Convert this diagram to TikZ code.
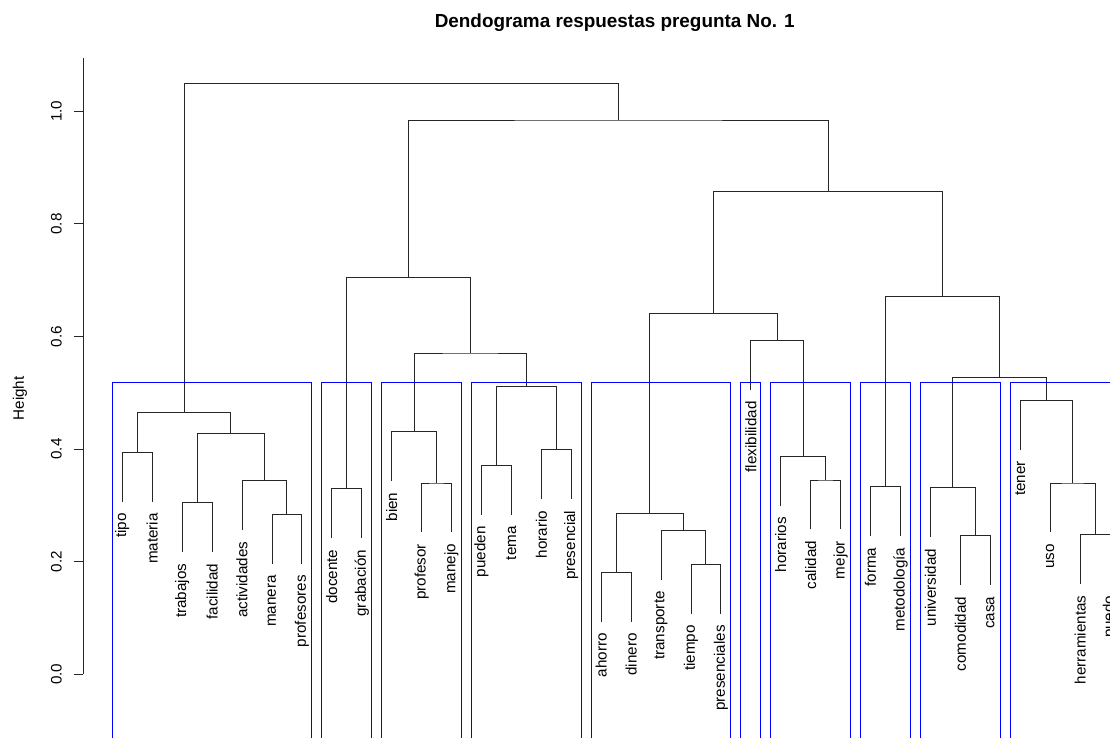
\documentclass[tikz,border=0pt]{standalone}
\usepackage{fontspec}
\setmainfont{Liberation Sans}
\usetikzlibrary{calc}
\tikzset{
  dline/.style={draw=black!85, line width=0.9pt},
  cbox/.style={draw=blue, line width=0.9pt},
  lab/.style={rotate=90, anchor=east, inner sep=0pt, font=\fontsize{15.2}{18}\selectfont},
  ticklab/.style={rotate=90, anchor=base, inner sep=0pt, font=\fontsize{15.2}{18}\selectfont},
}
% leaf: name, index, parent height (px), label
\newcommand\dleaf[4]{\coordinate (#1) at ({122.3+29.93*#2},{#3+49.3});
  \node[lab] (#1-t) at ([yshift=-11.5pt]#1) {#4};}
% merge: name, child A, child B, height (px)
\newcommand\dmerge[4]{\path let \p1=(#2), \p2=(#3) in coordinate (#1) at ({0.5*\x1+0.5*\x2},{-#4pt});
  \draw[dline] (#2) |- (#1) -| (#3);}
\newcommand\dbox[2]{\draw[cbox] ({122.3+29.93*(#1-0.34)},382.7) rectangle ({122.3+29.93*(#2+0.33)},750);}
\begin{document}
\begin{tikzpicture}[x=1pt,y=-1pt]
\useasboundingbox (0,0) rectangle (1110,738);
\clip (0,0) rectangle (1110,738);
% title
\node[font=\bfseries\fontsize{18.9}{22}\selectfont, anchor=base, inner sep=0pt] (title) at (614.7,27.7) {Dendograma respuestas pregunta No. 1};
% axis
\draw[dline] (83,58) -- (83,674.3);
\foreach \h/\t in {0/0.0,0.2/0.2,0.4/0.4,0.6/0.6,0.8/0.8,1.0/1.0}{
  \draw[dline] (74,{674.3-563*\h}) -- (83,{674.3-563*\h});
  \node[ticklab] at (61.5,{674.3-563*\h}) {\t};
}
\node[ticklab] (ylab) at (23.8,398.3) {Height};
% leaves
\dleaf{tipo}{0}{452.3}{tipo}
\dleaf{materia}{1}{452.3}{materia}
\dleaf{trabajos}{2}{502.7}{trabajos}
\dleaf{facilidad}{3}{502.7}{facilidad}
\dleaf{actividades}{4}{480.7}{actividades}
\dleaf{manera}{5}{514.3}{manera}
\dleaf{profesores}{6}{514.3}{profesores}
\dleaf{docente}{7}{488.7}{docente}
\dleaf{grab}{8}{488.7}{grabación}
\dleaf{bien}{9}{431.7}{bien}
\dleaf{profesor}{10}{483}{profesor}
\dleaf{manejo}{11}{483}{manejo}
\dleaf{pueden}{12}{465.3}{pueden}
\dleaf{tema}{13}{465.3}{tema}
\dleaf{horario}{14}{449.7}{horario}
\dleaf{presencial}{15}{449.7}{presencial}
\dleaf{ahorro}{16}{572.3}{ahorro}
\dleaf{dinero}{17}{572.3}{dinero}
\dleaf{transporte}{18}{530.3}{transporte}
\dleaf{tiempo}{19}{564.3}{tiempo}
\dleaf{presenciales}{20}{564.3}{presenciales}
\dleaf{flex}{21}{340.3}{flexibilidad}
\dleaf{horarios}{22}{456.3}{horarios}
\dleaf{calidad}{23}{480}{calidad}
\dleaf{mejor}{24}{480}{mejor}
\dleaf{forma}{25}{486.7}{forma}
\dleaf{metod}{26}{486.7}{metodología}
\dleaf{univ}{27}{487.7}{universidad}
\dleaf{comodidad}{28}{535.7}{comodidad}
\dleaf{casa}{29}{535.7}{casa}
\dleaf{tener}{30}{400.3}{tener}
\dleaf{uso}{31}{483}{uso}
\dleaf{herr}{32}{534.7}{herramientas}
\dleaf{puedo}{33}{534.7}{puedo}
% merges
\dmerge{A}{tipo}{materia}{452.3}
\dmerge{B}{trabajos}{facilidad}{502.7}
\dmerge{C}{manera}{profesores}{514.3}
\dmerge{D}{actividades}{C}{480.7}
\dmerge{E}{B}{D}{433.7}
\dmerge{F}{A}{E}{412.3}
\dmerge{G}{docente}{grab}{488.7}
\dmerge{H}{profesor}{manejo}{483}
\dmerge{I}{bien}{H}{431.7}
\dmerge{J}{pueden}{tema}{465.3}
\dmerge{K}{horario}{presencial}{449.7}
\dmerge{L}{J}{K}{386.7}
\dmerge{M}{I}{L}{353}
\dmerge{N}{G}{M}{277.3}
\dmerge{O}{ahorro}{dinero}{572.3}
\dmerge{P}{tiempo}{presenciales}{564.3}
\dmerge{Q}{transporte}{P}{530.3}
\dmerge{R}{O}{Q}{513.7}
\dmerge{S}{calidad}{mejor}{480}
\dmerge{T}{horarios}{S}{456.3}
\dmerge{U}{flex}{T}{340.3}
\dmerge{V}{R}{U}{313.7}
\dmerge{W}{forma}{metod}{486.7}
\dmerge{X}{comodidad}{casa}{535.7}
\dmerge{Y}{univ}{X}{487.7}
\dmerge{Z}{herr}{puedo}{534.7}
\dmerge{AA}{uso}{Z}{483}
\dmerge{AB}{tener}{AA}{400.3}
\dmerge{AC}{Y}{AB}{377.3}
\dmerge{AD}{W}{AC}{296.7}
\dmerge{AE}{V}{AD}{191.7}
\dmerge{AF}{N}{AE}{120}
\dmerge{ROOT}{F}{AF}{83.7}
% cluster boxes
\dbox{0}{6}
\dbox{7}{8}
\dbox{9}{11}
\dbox{12}{15}
\dbox{16}{20}
\dbox{21}{21}
\dbox{22}{24}
\dbox{25}{26}
\dbox{27}{29}
\dbox{30}{33}
\end{tikzpicture}
\end{document}
